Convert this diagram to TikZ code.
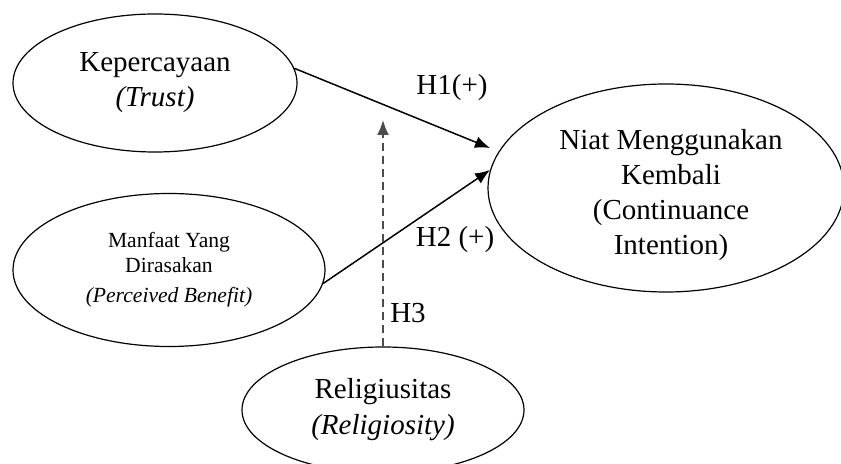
\documentclass[tikz,border=0pt]{standalone}
\usepackage{fontspec}
\setmainfont{Liberation Serif}
\usetikzlibrary{shapes.geometric,arrows.meta}

\begin{document}
\begin{tikzpicture}[x=0.5pt,y=-0.5pt]
\tikzstyle{every node}+=[inner sep=0pt]
\tikzstyle{construct}=[draw=black, ellipse, line width=0.6pt, align=center, font=\fontsize{14.5}{17.5}\selectfont]
\tikzstyle{effect}=[black, line width=0.75pt, -{Latex[length=7.5pt,width=6pt]}]
\tikzstyle{moderation}=[gray!60!black, line width=0.9pt, dash pattern=on 4pt off 2.5pt, -{Latex[length=7.5pt,width=6pt]}]
\tikzstyle{hlabel}=[align=center, font=\fontsize{14.5}{17.5}\selectfont]
\useasboundingbox (0,0) rectangle (841,464);
\node [construct, minimum width=142pt, minimum height=69pt] (kep) at (155,83) {Kepercayaan\\\textit{(Trust)}};
\node [construct, minimum width=156pt, minimum height=76.5pt, font=\fontsize{10.8}{12.5}\selectfont] (ben) at (169,270) {Manfaat Yang\\Dirasakan\\[2.5pt]\textit{(Perceived Benefit)}};
\node [construct, minimum width=178pt, minimum height=104pt] (niat) at (666,188) {};
\node [hlabel] (niattext) at (671,195) {Niat Menggunakan\\Kembali\\(Continuance\\Intention)};
\node [construct, minimum width=141pt, minimum height=63pt] (rel) at (383,410) {Religiusitas\\[0.5pt]\textit{(Religiosity)}};
\coordinate (h1tip) at (490,148);
\coordinate (h2tip) at (490,170);
\coordinate (h3tip) at (383,120);
\draw [effect] (kep.6) -- (h1tip);
\draw [effect] (ben.-5) -- (h2tip);
\draw [moderation] (rel.north) -- (h3tip);
\node [hlabel] (h1) at (452,88) {H1(+)};
\node [hlabel] (h2) at (455,240) {H2 (+)};
\node [hlabel] (h3) at (408,313) {H3};
\end{tikzpicture}
\end{document}
